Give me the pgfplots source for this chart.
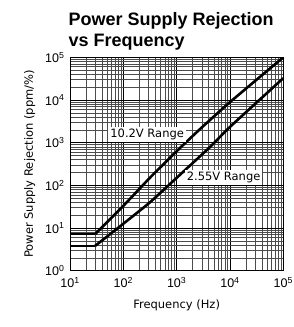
\documentclass[border=0pt]{standalone}
\usepackage{pgfplots}
\pgfplotsset{compat=1.18}
\usepackage{fontspec}
\setmainfont{Liberation Sans}
\newfontfamily\lblfont{DejaVu Sans}
\usetikzlibrary{calc}
\begin{document}
\begin{tikzpicture}
\begin{axis}[
  name=ax,
  at={(0,0)}, anchor=south west,
  scale only axis,
  width=213.3pt, height=213.4pt,
  xmode=log, ymode=log,
  xmin=10, xmax=1e5, ymin=1, ymax=1e5,
  xtick={10,100,1000,10000,100000},
  xticklabels={10\textsuperscript{1},10\textsuperscript{2},10\textsuperscript{3},10\textsuperscript{4},10\textsuperscript{5}},
  ytick={1,10,100,1000,10000,100000},
  yticklabels={10\textsuperscript{0},10\textsuperscript{1},10\textsuperscript{2},10\textsuperscript{3},10\textsuperscript{4},10\textsuperscript{5}},
  tick label style={font=\fontsize{12.5}{13}\selectfont},
  xticklabel style={yshift=-3pt},
  yticklabel style={xshift=-2pt},
  major tick length=0pt, minor tick length=0pt,
  grid=both,
  major grid style={black, line width=0.65pt},
  minor grid style={black!70, line width=0.55pt},
  axis line style={black, line width=0.9pt},
  xlabel={Frequency (Hz)},
  ylabel={Power Supply Rejection (ppm/\%)},
  label style={font=\lblfont\fontsize{11.5}{13}\selectfont},
  xlabel style={yshift=-5pt},
  ylabel style={yshift=3pt},
]
\addplot[black, line width=2.6pt, line join=round] coordinates {
 (10,7.2) (29.5,7.2)};
\addplot[black, line width=2.6pt, line join=round, smooth, tension=0.3] coordinates {
 (29.5,7.2) (100,33) (316,151) (1000,630) (2754,2090) (10000,8900) (100000,100000)};
\addplot[black, line width=2.6pt, line join=round] coordinates {
 (10,3.8) (29.5,3.8)};
\addplot[black, line width=2.6pt, line join=round, smooth, tension=0.3] coordinates {
 (29.5,3.8) (100,12.6) (316,40) (1000,150) (4266,800) (10000,2340) (100000,32400)};
\node[fill=white, inner sep=2pt, font=\lblfont\fontsize{11.5}{13}\selectfont] at (axis cs:280,1560) {10.2V Range};
\node[fill=white, inner sep=2pt, font=\lblfont\fontsize{11.5}{13}\selectfont] at (axis cs:7600,150) {2.55V Range};
\end{axis}
\node[anchor=north west, align=left, font=\bfseries\fontsize{18}{21}\selectfont] at ($(ax.north west)+(-5pt,48pt)$) {Power Supply Rejection\\vs Frequency};
\pgfresetboundingbox
\path[use as bounding box] ($(ax.south west)+(-70pt,-56.3pt)$) rectangle ($(ax.north east)+(10.7pt,57.3pt)$);
\end{tikzpicture}
\end{document}
